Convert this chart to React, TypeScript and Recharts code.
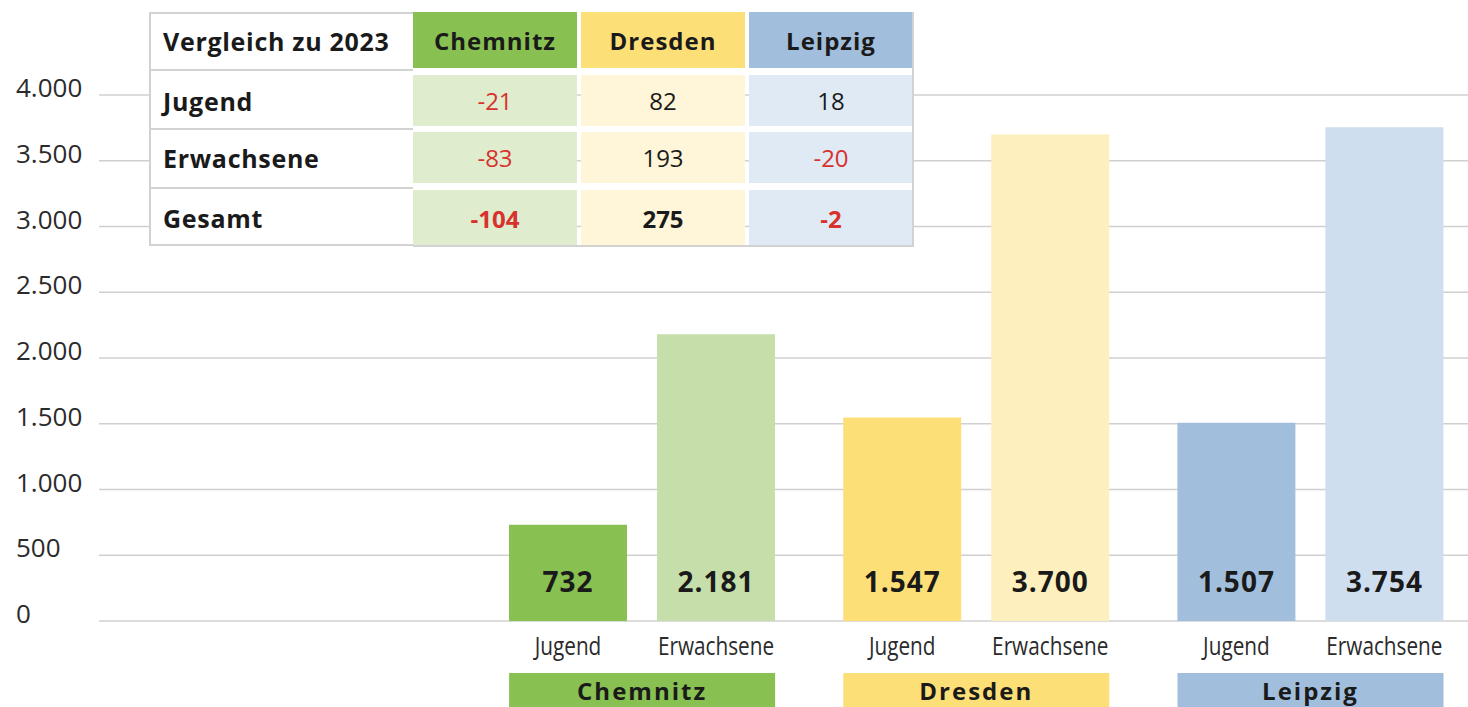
import React from "react";
import { BarChart, Bar, XAxis, YAxis, CartesianGrid, Cell, LabelList } from "recharts";

const cities = ["Chemnitz", "Dresden", "Leipzig"];
const jugend = [732, 1547, 1507];
const erwachsene = [2181, 3700, 3754];
const yTicks = [0, 500, 1000, 1500, 2000, 2500, 3000, 3500, 4000];

const tableTitle = "Vergleich zu 2023";
const tableRows = ["Jugend", "Erwachsene", "Gesamt"];
const changeJugend = [-21, 82, 18];
const changeErwachsene = [-83, 193, -20];
const changeGesamt = [-104, 275, -2];

const darkColors = ["#88c052", "#fddf78", "#a1bfdc"];
const lightColors = ["#c6dfaa", "#fdefbe", "#cfdeee"];
const cellColors = ["#dfecce", "#fff5d8", "#e0eaf4"];

const data = cities.map((c, i) => ({
  city: c,
  jugend: jugend[i],
  erwachsene: erwachsene[i],
}));

const fmt = (n: number) => String(n).replace(/\B(?=(\d{3})+(?!\d))/g, ".");

const SANS = "'Open Sans', 'Noto Sans', sans-serif";
const PLOT_BOTTOM = 621;
const BAR = 118;
const GAP = 30;

const YTick = (props: any) => (
  <text x={16} y={props.y + 2} fontFamily={SANS} fontSize={26} fill="#2b2b2b" textAnchor="start">
    {fmt(props.payload.value)}
  </text>
);

const CityTick = (props: any) => {
  const i = cities.indexOf(props.payload.value);
  const w = BAR * 2 + GAP;
  return (
    <g>
      <rect x={props.x - w / 2} y={PLOT_BOTTOM + 52} width={w} height={40} fill={darkColors[i]} />
      <text
        x={props.x}
        y={PLOT_BOTTOM + 79}
        textAnchor="middle"
        fontFamily={SANS}
        fontWeight={700}
        fontSize={24}
        fill="#1a1a1a"
        style={{ letterSpacing: 2 }}
      >
        {props.payload.value}
      </text>
    </g>
  );
};

const valueLabel = (props: any) => {
  const { x, y, width, height, value } = props;
  return (
    <text
      x={x + width / 2}
      y={y + height - 29}
      textAnchor="middle"
      fontFamily={SANS}
      fontWeight={700}
      fontSize={28}
      fill="#1a1a1a"
      style={{ letterSpacing: 1 }}
    >
      {fmt(value)}
    </text>
  );
};

// condensed look: Open Sans squeezed horizontally
const subLabel = (name: string) => (props: any) => {
  const { x, y, width, height } = props;
  return (
    <text
      transform={`translate(${x + width / 2},${y + height + 34}) scale(0.83,1)`}
      textAnchor="middle"
      fontFamily={SANS}
      fontSize={25}
      fill="#2b2b2b"
    >
      {name}
    </text>
  );
};

const changes = [changeJugend, changeErwachsene, changeGesamt];
const rowTop = [75, 132, 190];
const rowH = [51, 51, 56];
const colLeft = [413, 581, 749];
const COLW = 164;

function Table() {
  const cell: React.CSSProperties = {
    position: "absolute",
    display: "flex",
    alignItems: "center",
    fontFamily: SANS,
    fontSize: 24,
    color: "#1a1a1a",
    boxSizing: "border-box",
    whiteSpace: "nowrap",
  };
  const labelCell: React.CSSProperties = { ...cell, left: 163, fontWeight: 700, fontSize: 25, letterSpacing: 0.7 };
  return (
    <div style={{ position: "absolute", left: 0, top: 0 }}>
      {/* label column */}
      <div
        style={{
          position: "absolute",
          left: 149,
          top: 12,
          width: 264,
          height: 234,
          boxSizing: "border-box",
          border: "2px solid #d2d2d2",
          borderRight: "none",
          background: "#fff",
        }}
      />
      {[69, 128, 187].map((t) => (
        <div key={t} style={{ position: "absolute", left: 149, top: t, width: 264, height: 2, background: "#d2d2d2" }} />
      ))}
      <div style={{ ...labelCell, top: 12, height: 57 }}>{tableTitle}</div>
      {tableRows.map((r, ri) => (
        <div key={r} style={{ ...labelCell, top: rowTop[ri], height: rowH[ri] }}>
          {r}
        </div>
      ))}
      {cities.map((c, ci) => (
        <React.Fragment key={c}>
          <div
            style={{
              ...cell,
              left: colLeft[ci],
              top: 12,
              width: COLW,
              height: 56,
              background: darkColors[ci],
              justifyContent: "center",
              fontWeight: 700,
              letterSpacing: 1,
            }}
          >
            {c}
          </div>
          {tableRows.map((r, ri) => {
            const v = changes[ri][ci];
            return (
              <div
                key={r}
                style={{
                  ...cell,
                  left: colLeft[ci],
                  top: rowTop[ri],
                  width: COLW,
                  height: rowH[ri],
                  background: cellColors[ci],
                  justifyContent: "center",
                  color: v < 0 ? "#d7322d" : "#1a1a1a",
                  fontWeight: ri === 2 ? 700 : 400,
                }}
              >
                {v}
              </div>
            );
          })}
        </React.Fragment>
      ))}
      <div style={{ position: "absolute", left: 413, top: 245, width: 500, height: 2, background: "#d2d2d2" }} />
      <div style={{ position: "absolute", left: 912, top: 12, width: 2, height: 235, background: "#d2d2d2" }} />
    </div>
  );
}

export default function App() {
  return (
    <div style={{ position: "absolute", left: 0, top: 0, width: 1468, height: 707, overflow: "hidden", background: "#fff" }}>
      <BarChart
        width={1480}
        height={707}
        data={data}
        margin={{ top: 95, right: 2.4, left: 0, bottom: 0 }}
        barSize={BAR}
        barGap={GAP}
      >
        <CartesianGrid vertical={false} stroke="#d0d0d0" strokeWidth={1.5} />
        <YAxis
          width={99}
          domain={[0, 4000]}
          ticks={yTicks}
          interval={0}
          axisLine={false}
          tickLine={false}
          tick={<YTick />}
        />
        <XAxis
          dataKey="city"
          height={86}
          padding={{ left: 376, right: 0 }}
          axisLine={false}
          tickLine={false}
          interval={0}
          tick={<CityTick />}
        />
        <Bar dataKey="jugend" isAnimationActive={false}>
          {data.map((d, i) => (
            <Cell key={d.city} fill={darkColors[i]} />
          ))}
          <LabelList dataKey="jugend" content={valueLabel} />
          <LabelList dataKey="jugend" content={subLabel("Jugend")} />
        </Bar>
        <Bar dataKey="erwachsene" isAnimationActive={false}>
          {data.map((d, i) => (
            <Cell key={d.city} fill={lightColors[i]} />
          ))}
          <LabelList dataKey="erwachsene" content={valueLabel} />
          <LabelList dataKey="erwachsene" content={subLabel("Erwachsene")} />
        </Bar>
      </BarChart>
      <Table />
    </div>
  );
}
